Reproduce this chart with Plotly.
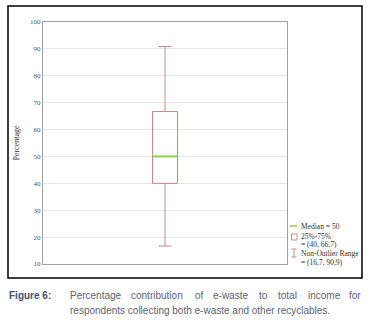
import plotly.graph_objects as go

# Data
q1 = [40]
median = [50]
q3 = [66.7]
lower = [16.7]
upper = [90.9]
y_ticks = [10, 20, 30, 40, 50, 60, 70, 80, 90, 100]
legend_labels = ["Median = 50", "25%-75%", "= (40, 66,7)", "Non-Outlier Range", "= (16,7, 90,9)"]
caption_label = "Figure 6:"
caption_line1 = ["Percentage", "contribution", "of", "e-waste", "to", "total", "income", "for"]
caption_line2 = "respondents collecting both e-waste and other recyclables."

W, H = 379, 323
def px(x): return x / W
def py(y): return 1 - y / H

box_w = 0.205
box_color = "#c48a8a"
green = "#8fd14f"

fig = go.Figure()
fig.add_trace(go.Box(
    x=[0], q1=q1, median=median, q3=q3, lowerfence=lower, upperfence=upper,
    width=box_w, whiskerwidth=0.52, fillcolor="rgba(255,255,255,0)",
    line=dict(color=box_color, width=1), boxpoints=False, showlegend=False,
    hoverinfo="skip"))
fig.add_trace(go.Scatter(
    x=[-box_w / 2, box_w / 2], y=[median[0], median[0]], mode="lines",
    line=dict(color=green, width=2), showlegend=False, hoverinfo="skip"))

fig.update_layout(
    width=W, height=H, margin=dict(l=0, r=0, t=0, b=0, autoexpand=False),
    paper_bgcolor="white", plot_bgcolor="white", showlegend=False,
    xaxis=dict(domain=[px(43), px(287)], range=[-1, 1], showticklabels=False,
               showgrid=False, zeroline=False, showline=True, linecolor="#a0a0a0",
               linewidth=1, mirror=True, ticks="", automargin=False),
    yaxis=dict(domain=[py(264), py(22)], range=[10, 100], tickvals=y_ticks,
               showgrid=True, gridcolor="#e6e6e6", gridwidth=1, zeroline=False,
               showline=True, linecolor="#a0a0a0", linewidth=1, mirror=True,
               ticks="", automargin=False,
               tickfont=dict(family="Liberation Serif", size=7, color="#555555"),
               title=dict(text="Percentage", font=dict(family="Liberation Serif", size=8, color="#333333"),
                          standoff=9)),
)

# outer frame
fig.add_shape(type="rect", xref="paper", yref="paper", x0=px(8), x1=px(362),
              y0=py(278), y1=py(6), line=dict(color="black", width=1.5))

# legend
lf = dict(family="Liberation Serif", size=7.5, color="#333333")
fig.add_shape(type="line", xref="paper", yref="paper", x0=px(290), x1=px(297),
              y0=py(226), y1=py(226), line=dict(color=green, width=1.5))
fig.add_shape(type="rect", xref="paper", yref="paper", x0=px(291.5), x1=px(297),
              y0=py(240), y1=py(234), line=dict(color=box_color, width=1))
fig.add_shape(type="line", xref="paper", yref="paper", x0=px(294), x1=px(294),
              y0=py(257), y1=py(249), line=dict(color=box_color, width=1))
fig.add_shape(type="line", xref="paper", yref="paper", x0=px(291.5), x1=px(296.5),
              y0=py(249), y1=py(249), line=dict(color=box_color, width=1))
fig.add_shape(type="line", xref="paper", yref="paper", x0=px(291.5), x1=px(296.5),
              y0=py(257), y1=py(257), line=dict(color=box_color, width=1))
leg_pos = [(299, 226.5), (299, 236), (299, 244.5), (299, 253), (299, 262)]
for (lx, ly), t in zip(leg_pos, legend_labels):
    fig.add_annotation(xref="paper", yref="paper", x=px(lx), y=py(ly), text=t,
                       showarrow=False, xanchor="left", yanchor="middle", font=lf)

# caption
cap_family = "Liberation Sans Narrow, Arial Narrow, Liberation Sans, sans-serif"
cap_font = dict(family=cap_family, size=10, color="#5b6272")
fig.add_annotation(xref="paper", yref="paper", x=px(7), y=py(295), text="<b>" + caption_label + "</b>",
                   showarrow=False, xanchor="left", yanchor="middle",
                   font=dict(family=cap_family, size=10, color="#44506a"))
word_x = [68, 129, 193, 211, 257, 276, 306, 347]
for wx, wd in zip(word_x, caption_line1):
    fig.add_annotation(xref="paper", yref="paper", x=px(wx), y=py(295), text=wd,
                       showarrow=False, xanchor="left", yanchor="middle", font=cap_font)
fig.add_annotation(xref="paper", yref="paper", x=px(68), y=py(310), text=caption_line2,
                   showarrow=False, xanchor="left", yanchor="middle", font=cap_font)

fig.write_html("out.html", config={"displayModeBar": False},
               post_script="document.body.style.margin='0';document.body.style.overflow='hidden';")
